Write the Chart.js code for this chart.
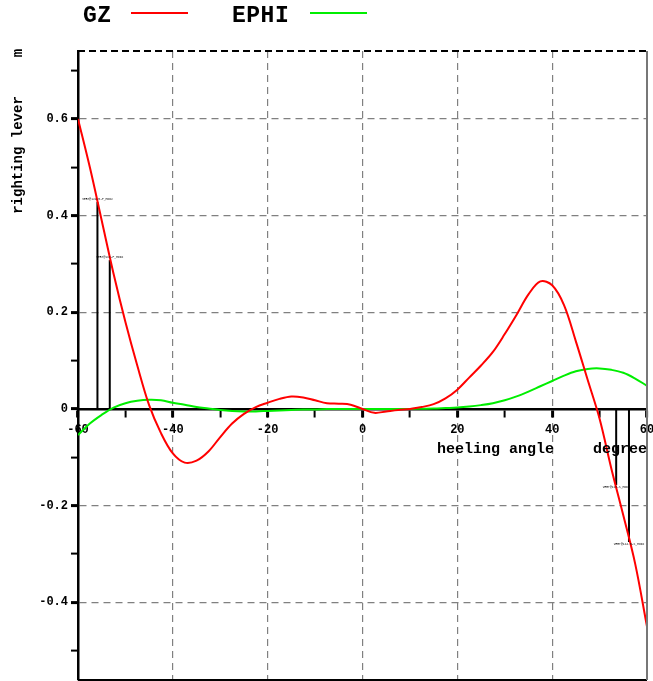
<!DOCTYPE html>
<html>
<head>
<meta charset="utf-8">
<script src="https://cdn.jsdelivr.net/npm/chart.js@4"></script>
<style>
  html, body { margin: 0; padding: 0; background: #fff; overflow: hidden; }
</style>
</head>
<body>
<canvas id="chart" width="653" height="681"></canvas>
<script>
// ---------- DATA ----------
const angles = [-60, -57.5, -55, -52.5, -50, -47.5, -45, -42.5, -40, -37.5, -35, -32.5, -30, -27.5, -25, -22.5,
  -20, -17.5, -15, -12.5, -10, -7.5, -5, -2.5, 0, 2.5, 5, 7.5, 10, 12.5, 15, 17.5, 20, 22.5, 25, 27.5,
  30, 32.5, 35, 37.5, 40, 42.5, 45, 47.5, 50, 52.5, 55, 57.5, 60];
const gzValues = [0.60, 0.50, 0.39, 0.28, 0.18, 0.09, 0.008, -0.05, -0.092, -0.111, -0.107, -0.088, -0.058, -0.03, -0.01, 0.004,
  0.013, 0.021, 0.026, 0.024, 0.018, 0.012, 0.011, 0.009, 0.0, -0.008, -0.005, -0.002, 0.0, 0.004, 0.01, 0.022, 0.04, 0.065, 0.09, 0.118,
  0.155, 0.195, 0.237, 0.264, 0.256, 0.215, 0.14, 0.06, -0.02, -0.124, -0.22, -0.32, -0.45];
const ephiValues = [-0.054, -0.03, -0.012, 0.003, 0.012, 0.017, 0.019, 0.018, 0.013, 0.009, 0.004, 0.001, -0.002, -0.004, -0.005, -0.005,
  -0.004, -0.003, -0.002, -0.001, -0.001, 0, 0, 0, 0, 0, 0, 0, 0, 0.0005, 0.001, 0.002, 0.003, 0.005, 0.008, 0.012,
  0.018, 0.026, 0.036, 0.047, 0.058, 0.069, 0.078, 0.083, 0.084, 0.081, 0.075, 0.063, 0.048];

// downflooding markers
const markerAngles = [-55.9, -53.3, 53.5, 56.2];
const markerLevels = [0.428, 0.308, -0.157, -0.275];
const markerLabels = ["VERT@124.5-P_MOD2", "VERT@117-P_MOD2", "VERT@117-S_MOD2", "VERT@124.5-S_MOD2"];

const seriesNames = ["GZ", "EPHI"];
const seriesColors = ["#ff0000", "#00ee00"];
const X_MIN = -60, X_MAX = 60;
const Y_MIN = -0.5607, Y_MAX = 0.7407;
const X_TITLE = "heeling angle", X_UNIT = "degree";
const Y_TITLE = "righting lever", Y_UNIT = "m";

const MONO = "'Liberation Mono', 'Courier New', monospace";
const GRID = "#808080";

// ---------- DATASETS ----------
const toPoints = (vals) => angles.map((a, i) => ({ x: a, y: vals[i] }));

const datasets = [
  { label: seriesNames[0], data: toPoints(gzValues), borderColor: seriesColors[0], borderWidth: 2,
    pointRadius: 0, tension: 0.35 },
  { label: seriesNames[1], data: toPoints(ephiValues), borderColor: seriesColors[1], borderWidth: 2,
    pointRadius: 0, tension: 0.35 },
];
markerAngles.forEach((a, i) => {
  datasets.push({
    label: markerLabels[i],
    data: [{ x: a, y: 0 }, { x: a, y: markerLevels[i] }],
    borderColor: "#000", borderWidth: 2, pointRadius: 0,
  });
});

// ---------- DECOR PLUGIN ----------
const decor = {
  id: "decor",
  afterDraw(chart) {
    const { ctx, chartArea: a, scales: { x, y } } = chart;
    ctx.save();

    // frame
    ctx.lineWidth = 2;
    ctx.strokeStyle = "#000";
    ctx.setLineDash([7, 4]);
    ctx.beginPath(); ctx.moveTo(a.left, a.top); ctx.lineTo(a.right, a.top); ctx.stroke();
    ctx.setLineDash([]);
    ctx.beginPath(); ctx.moveTo(a.left, a.bottom); ctx.lineTo(a.right, a.bottom); ctx.stroke();
    ctx.strokeStyle = "#777";
    ctx.beginPath(); ctx.moveTo(a.right, a.top); ctx.lineTo(a.right, a.bottom); ctx.stroke();

    // legend
    ctx.fillStyle = "#000";
    ctx.font = "bold 23px " + MONO;
    ctx.letterSpacing = "0.5px";
    ctx.textBaseline = "alphabetic";
    ctx.textAlign = "left";
    ctx.fillText(seriesNames[0], 83, 22);
    ctx.fillText(seriesNames[1], 232, 22);
    ctx.letterSpacing = "0px";
    ctx.lineWidth = 2;
    ctx.strokeStyle = seriesColors[0];
    ctx.beginPath(); ctx.moveTo(131, 13); ctx.lineTo(188, 13); ctx.stroke();
    ctx.strokeStyle = seriesColors[1];
    ctx.beginPath(); ctx.moveTo(310, 13); ctx.lineTo(367, 13); ctx.stroke();

    // axis titles
    ctx.font = "bold 15px " + MONO;
    ctx.fillText(X_TITLE, 437, 453);
    ctx.fillText(X_UNIT, 593, 453);

    ctx.font = "bold 14px " + MONO;
    ctx.textAlign = "center";
    ctx.textBaseline = "middle";
    ctx.save();
    ctx.translate(18, 155);
    ctx.rotate(-Math.PI / 2);
    ctx.fillText(Y_TITLE, 0, 0);
    ctx.restore();
    ctx.save();
    ctx.translate(18, 53);
    ctx.rotate(-Math.PI / 2);
    ctx.fillText(Y_UNIT, 0, 0);
    ctx.restore();

    // marker labels
    ctx.font = "3px " + MONO;
    markerAngles.forEach((ang, i) => {
      const px = x.getPixelForValue(ang);
      const py = y.getPixelForValue(markerLevels[i]);
      const up = markerLevels[i] > 0;
      ctx.textBaseline = up ? "bottom" : "top";
      ctx.fillText(markerLabels[i], px, up ? py - 1 : py + 1);
    });

    ctx.restore();
  },
};

// ---------- CHART ----------
const tickFont = { family: MONO, size: 12, weight: "bold" };

new Chart(document.getElementById("chart"), {
  type: "line",
  data: { datasets },
  options: {
    responsive: false,
    animation: false,
    layout: { padding: { top: 51, bottom: 1, left: 0, right: 6 } },
    plugins: { legend: { display: false }, tooltip: { enabled: false } },
    scales: {
      x: {
        type: "linear",
        position: { y: 0 },
        min: X_MIN,
        max: X_MAX,
        afterFit(scale) { scale.paddingLeft = 0; scale.paddingRight = 0; },
        ticks: {
          stepSize: 10,
          autoSkip: false,
          maxRotation: 0,
          padding: 7,
          color: "#000",
          font: tickFont,
          callback: (v) => (Math.round(v) % 20 === 0 ? String(v) : ""),
        },
        grid: {
          color: (c) => {
            const v = Math.round(c.tick.value);
            return v % 20 === 0 && Math.abs(v) < 60 ? GRID : "rgba(0,0,0,0)";
          },
          lineWidth: 1.2,
          tickColor: "#000",
          tickLength: 7,
          tickWidth: (c) => (Math.round(c.tick.value) % 20 === 0 ? 3 : 2),
        },
        border: { display: true, color: "#000", width: 2.5, dash: [7, 5] },
      },
      y: {
        type: "linear",
        min: Y_MIN,
        max: Y_MAX,
        afterFit(scale) { scale.width = 78; scale.paddingTop = 0; scale.paddingBottom = 0; },
        ticks: {
          stepSize: 0.1,
          includeBounds: false,
          autoSkip: false,
          padding: 3,
          color: "#000",
          font: tickFont,
          callback: (v) => {
            const r = Math.round(v * 10);
            if (r % 2 !== 0) return "";
            return r === 0 ? "0" : (r / 10).toFixed(1);
          },
        },
        grid: {
          color: (c) => {
            const r = Math.round(c.tick.value * 10);
            return r % 2 === 0 && r !== 0 ? GRID : "rgba(0,0,0,0)";
          },
          lineWidth: 1.2,
          tickColor: "#000",
          tickLength: 7,
          tickWidth: (c) => (Math.round(c.tick.value * 10) % 2 === 0 ? 3 : 2),
        },
        border: { display: true, color: "#000", width: 2.5, dash: [7, 5] },
      },
    },
  },
  plugins: [decor],
});
</script>
</body>
</html>
